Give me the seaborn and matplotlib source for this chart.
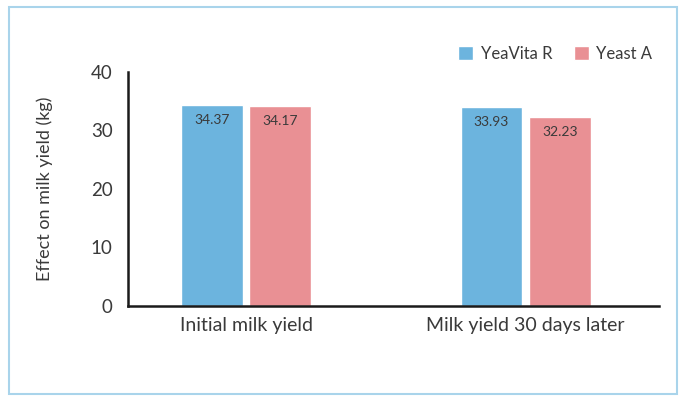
import matplotlib
matplotlib.use("Agg")
import matplotlib.pyplot as plt
import pandas as pd
import seaborn as sns
from matplotlib.patches import Rectangle

categories = ["Initial milk yield", "Milk yield 30 days later"]
series = ["YeaVita R", "Yeast A"]
yeavita_values = [34.37, 33.93]
yeast_a_values = [34.17, 32.23]
y_ticks = [0, 10, 20, 30, 40]

colors = {"YeaVita R": "#6CB4DE", "Yeast A": "#E99094"}
text_color = "#3a3a3a"

df = pd.DataFrame({
    "category": categories * 2,
    "series": [series[0]] * 2 + [series[1]] * 2,
    "value": yeavita_values + yeast_a_values,
})

sns.set_style("white")
plt.rcParams["font.family"] = ["Lato", "DejaVu Sans"]

fig = plt.figure(figsize=(6.81, 3.99), dpi=100)
ax = fig.add_axes([0.188, 0.233, 0.780, 0.587])

sns.barplot(data=df, x="category", y="value", hue="series", palette=colors,
            width=0.49, gap=0.1, saturation=1, ax=ax, legend=True)

for cont in ax.containers:
    ax.bar_label(cont, fmt="%.2f", padding=-15, fontsize=10, color=text_color)

ax.set_xlim(-0.422, 1.478)
ax.set_ylim(0, 40)
ax.set_yticks(y_ticks)
ax.tick_params(axis="y", length=0, labelsize=13.5, colors=text_color, pad=11)
ax.tick_params(axis="x", length=0, labelsize=14, colors=text_color, pad=8)
ax.set_xlabel("")
ax.set_ylabel("Effect on milk yield (kg)", fontsize=13, color=text_color, labelpad=27)

for side in ["top", "right"]:
    ax.spines[side].set_visible(False)
for side in ["left", "bottom"]:
    ax.spines[side].set_color("#1a1a1a")
    ax.spines[side].set_linewidth(1.8)

handles, labels = ax.get_legend_handles_labels()
ax.legend(handles, labels, loc="center right", bbox_to_anchor=(0.98, 0.865),
          bbox_transform=fig.transFigure, ncol=2, frameon=False,
          fontsize=12, handlelength=0.9, handleheight=0.9,
          handletextpad=0.45, columnspacing=1.3, labelcolor=text_color)

fig.patches.append(Rectangle((9 / 681, 5 / 399), 668 / 681, 387 / 399,
                             transform=fig.transFigure, fill=False,
                             edgecolor="#A9D4EB", linewidth=1.5))

fig.savefig("out.png", dpi=100)
